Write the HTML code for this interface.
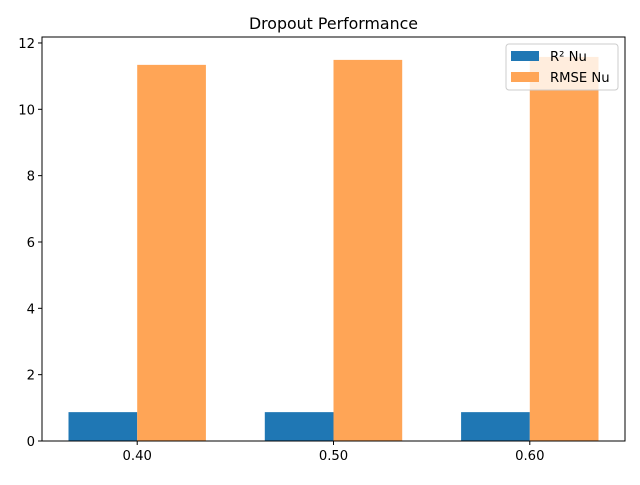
<!DOCTYPE html>
<html><head><meta charset="utf-8"><style>body{margin:0;background:#fff}svg{font-family:"DejaVu Sans","Liberation Sans",sans-serif}</style></head>
<body>
<svg id="c" width="640" height="480"></svg>
<script>
const categories = ["0.40","0.50","0.60"];
const r2Values = [0.87,0.87,0.87];
const rmseValues = [11.34,11.49,11.58];
const yTicks = [0,2,4,6,8,10,12];
const NS="http://www.w3.org/2000/svg";
const svg=document.getElementById('c');
const L=42,R=625,T=37,B=441;
const xmin=-0.485,xmax=2.485,ymax=12.18;
const xs=v=>L+(v-xmin)/(xmax-xmin)*(R-L);
const ys=v=>B-v/ymax*(B-T);
function mk(t,a,p){const e=document.createElementNS(NS,t);for(const k in a)e.setAttribute(k,a[k]);(p||svg).appendChild(e);return e;}
const w=0.35;
categories.forEach((c,i)=>{
 const b1=mk('rect',{x:xs(i-w),y:ys(r2Values[i]),width:xs(i)-xs(i-w),height:B-ys(r2Values[i]),fill:'#1f77b4'});
 
 
 const b2=mk('rect',{x:xs(i),y:ys(rmseValues[i]),width:xs(i+w)-xs(i),height:B-ys(rmseValues[i]),fill:'#ffa556'});
 
 
 mk('line',{x1:xs(i),x2:xs(i),y1:B,y2:B+4,stroke:'#000'});
 const t=mk('text',{x:xs(i),y:B+19,'text-anchor':'middle','font-size':13.2});t.textContent=c;
 
 
});
yTicks.forEach(v=>{
 mk('line',{x1:L-4,x2:L,y1:ys(v),y2:ys(v),stroke:'#000'});
 const t=mk('text',{x:L-7,y:ys(v)+5,'text-anchor':'end','font-size':13.2});t.textContent=v;
 
 
});
mk('rect',{x:L,y:T,width:R-L,height:B-T,fill:'none',stroke:'#000','stroke-width':1});
const title=mk('text',{x:(L+R)/2,y:29,'text-anchor':'middle','font-size':15.8});title.textContent='Dropout Performance';


const lg=mk('g',{});


mk('rect',{x:506,y:44,width:112,height:46,rx:3,fill:'#fff','fill-opacity':0.8,stroke:'#ccc'},lg);
mk('rect',{x:511,y:51,width:28,height:10,fill:'#1f77b4'},lg);
mk('rect',{x:511,y:72,width:28,height:10,fill:'#ffa556'},lg);
const l1=mk('text',{x:550,y:61,'font-size':13.2},lg);l1.textContent='R² Nu';
const l2=mk('text',{x:550,y:82,'font-size':13.2},lg);l2.textContent='RMSE Nu';
</script>
</body></html>
